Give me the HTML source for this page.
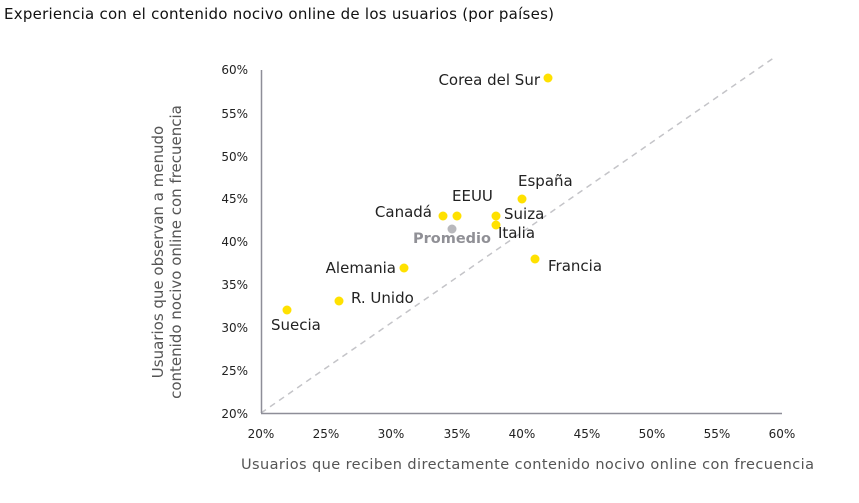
<!DOCTYPE html>
<html><head><meta charset="utf-8"><style>
body{margin:0;background:#fff;}
svg{display:block;font-family:"DejaVu Sans",sans-serif;}
</style></head><body>
<svg width="859" height="503" viewBox="0 0 859 503">
<text x="4" y="19" font-size="15" fill="#111" textLength="550">Experiencia con el contenido nocivo online de los usuarios (por países)</text>
<line x1="261" y1="413" x2="775" y2="57" stroke="#c4c4c8" stroke-width="1.5" stroke-dasharray="6,5"/>
<line x1="261.5" y1="70" x2="261.5" y2="413" stroke="#8e8e98" stroke-width="1.5"/>
<line x1="261" y1="413.5" x2="782" y2="413.5" stroke="#8e8e98" stroke-width="1.5"/>
<g font-size="12" fill="#222" text-anchor="end">
<text x="248" y="74">60%</text><text x="248" y="118">55%</text><text x="248" y="161">50%</text>
<text x="248" y="203">45%</text><text x="248" y="246">40%</text><text x="248" y="289">35%</text>
<text x="248" y="332">30%</text><text x="248" y="375">25%</text><text x="248" y="418">20%</text>
</g>
<g font-size="12" fill="#222" text-anchor="middle">
<text x="261" y="438">20%</text><text x="326" y="438">25%</text><text x="391" y="438">30%</text>
<text x="457" y="438">35%</text><text x="522" y="438">40%</text><text x="587" y="438">45%</text>
<text x="652" y="438">50%</text><text x="717" y="438">55%</text><text x="782" y="438">60%</text>
</g>
<text x="241" y="469" font-size="14.5" fill="#555" textLength="573">Usuarios que reciben directamente contenido nocivo online con frecuencia</text>
<g font-size="15" fill="#555" text-anchor="middle">
<text transform="translate(163,252) rotate(-90)">Usuarios que observan a menudo</text>
<text transform="translate(181,252) rotate(-90)">contenido nocivo online con frecuencia</text>
</g>
<g fill="#ffe100">
<circle cx="548" cy="78" r="4.5"/><circle cx="522" cy="199" r="4.5"/>
<circle cx="443" cy="216" r="4.5"/><circle cx="457" cy="216" r="4.5"/>
<circle cx="496" cy="216" r="4.5"/><circle cx="496" cy="225" r="4.5"/>
<circle cx="404" cy="268" r="4.5"/><circle cx="535" cy="259" r="4.5"/>
<circle cx="339" cy="301" r="4.5"/><circle cx="287" cy="310" r="4.5"/>
</g>
<circle cx="452" cy="229" r="4.5" fill="#b8b8bc"/>
<g font-size="15" fill="#222">
<text x="540" y="85" text-anchor="end">Corea del Sur</text>
<text x="518" y="186">España</text>
<text x="432" y="217" text-anchor="end">Canadá</text>
<text x="452" y="201">EEUU</text>
<text x="504" y="219">Suiza</text>
<text x="498" y="238">Italia</text>
<text x="396" y="273" text-anchor="end">Alemania</text>
<text x="548" y="271">Francia</text>
<text x="351" y="303">R. Unido</text>
<text x="271" y="330">Suecia</text>
</g>
<text x="413" y="243" font-size="14.5" font-weight="bold" fill="#909096">Promedio</text>
</svg>
</body></html>
